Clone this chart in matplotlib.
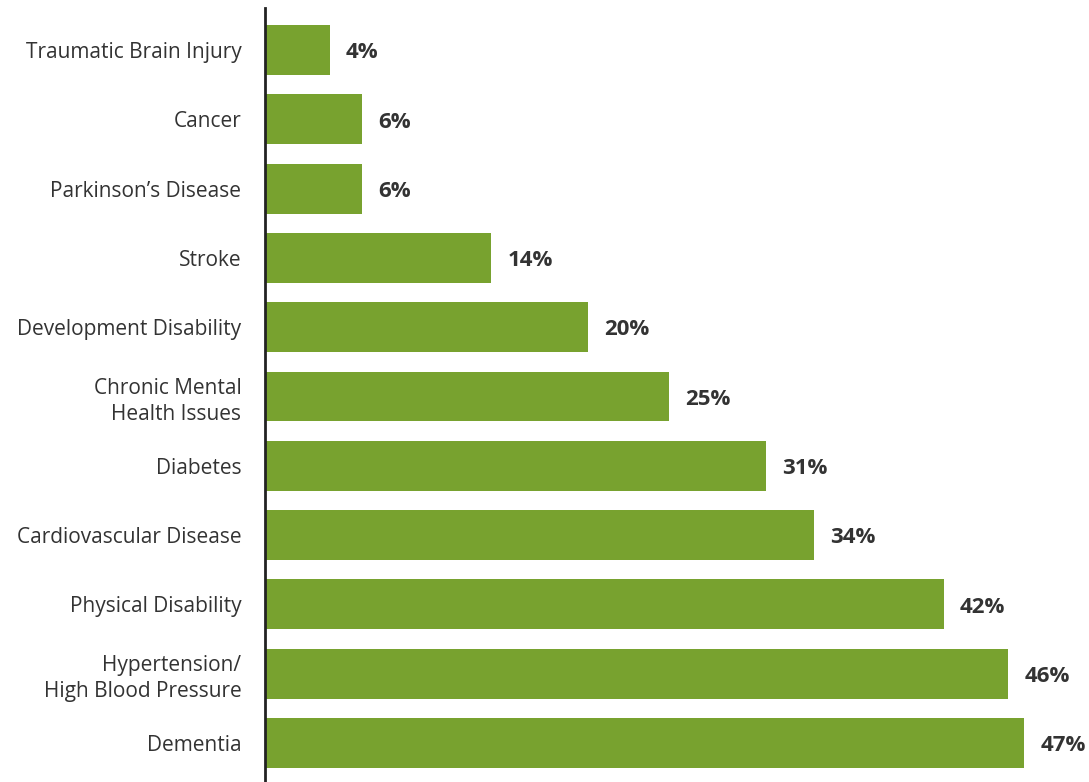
import matplotlib.pyplot as plt

# --- DATA ---
conditions = [
    "Traumatic Brain Injury",
    "Cancer",
    "Parkinson\u2019s Disease",
    "Stroke",
    "Development Disability",
    "Chronic Mental\nHealth Issues",
    "Diabetes",
    "Cardiovascular Disease",
    "Physical Disability",
    "Hypertension/\nHigh Blood Pressure",
    "Dementia",
]
percent = [4, 6, 6, 14, 20, 25, 31, 34, 42, 46, 47]

bar_color = "#78A22F"
text_color = "#333333"

plt.rcParams["font.family"] = ["Open Sans", "DejaVu Sans"]

fig = plt.figure(figsize=(10.89, 7.82), dpi=100)
ax = fig.add_axes([265 / 1089, 0, 824 / 1089, 774 / 782])

ypos = list(range(len(conditions)))
ax.barh(ypos, percent, height=0.72, color=bar_color)

for y, v in zip(ypos, percent):
    ax.text(v + 1.0, y + 0.04, f"{v}%", va="center", ha="left",
            fontsize=16, fontweight="bold", color=text_color)

ax.set_yticks(ypos)
ax.set_yticklabels(conditions, fontsize=15, color=text_color, linespacing=1.3)
ax.tick_params(axis="y", length=0, pad=17)
ax.set_xticks([])

ax.set_xlim(0, 51.0)
ax.set_ylim(10 + 0.563, -0.606)

for s in ["top", "right", "bottom"]:
    ax.spines[s].set_visible(False)
ax.spines["left"].set_linewidth(2)
ax.spines["left"].set_color("#222222")

fig.savefig("out.png", dpi=100)
